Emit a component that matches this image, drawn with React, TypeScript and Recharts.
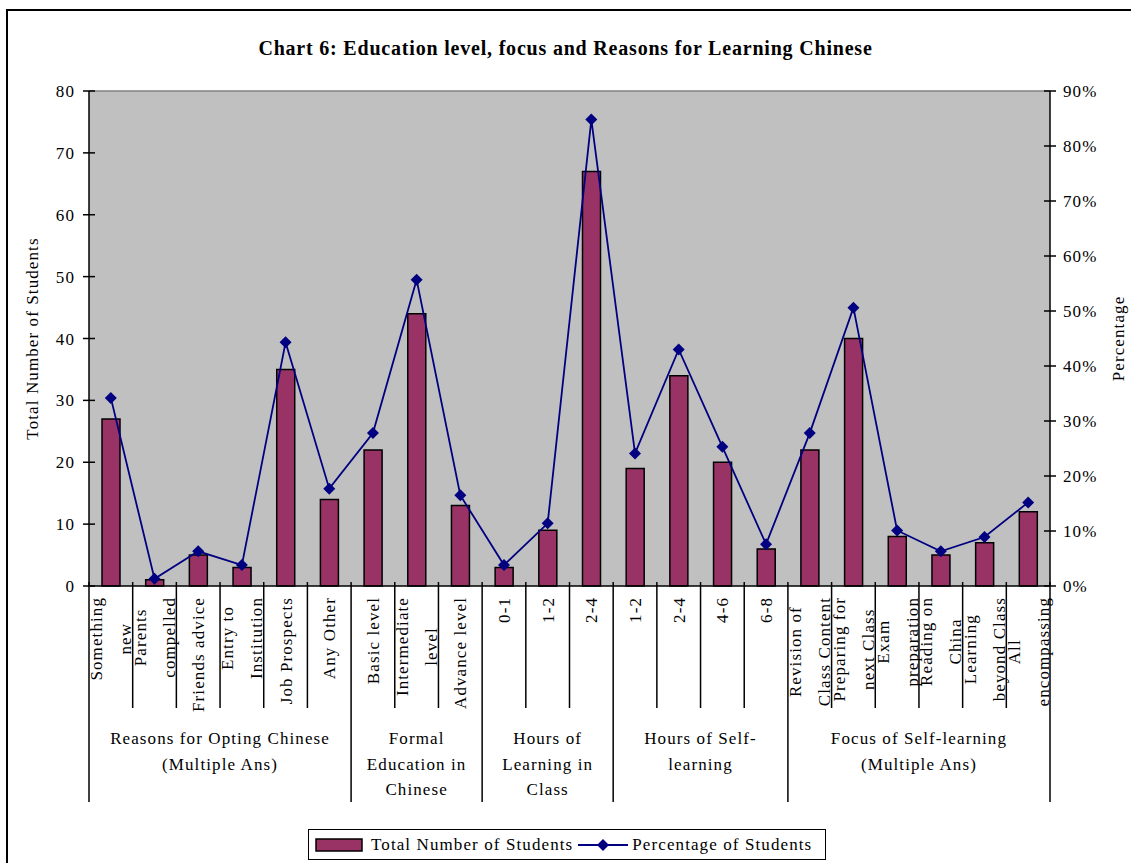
import React from 'react';
import { ComposedChart, Bar, Line, XAxis, YAxis, CartesianGrid, ReferenceLine } from 'recharts';

// category labels, one array of wrapped lines per bar
const categoryLabels: string[][] = [
  ['Something', 'new'],
  ['Parents', 'compelled'],
  ['Friends advice'],
  ['Entry to', 'Institution'],
  ['Job Prospects'],
  ['Any Other'],
  ['Basic level'],
  ['Intermediate', 'level'],
  ['Advance level'],
  ['0-1'],
  ['1-2'],
  ['2-4'],
  ['1-2'],
  ['2-4'],
  ['4-6'],
  ['6-8'],
  ['Revision of', 'Class Content'],
  ['Preparing for', 'next Class'],
  ['Exam', 'preparation'],
  ['Reading on', 'China'],
  ['Learning', 'beyond Class'],
  ['All', 'encompassing'],
];

const groupLabels: string[][] = [
  ['Reasons for Opting Chinese', '(Multiple Ans)'],
  ['Formal', 'Education in', 'Chinese'],
  ['Hours of', 'Learning in', 'Class'],
  ['Hours of Self-', 'learning'],
  ['Focus of Self-learning', '(Multiple Ans)'],
];
const groupSizes = [6, 3, 3, 4, 6];

const studentCounts = [27, 1, 5, 3, 35, 14, 22, 44, 13, 3, 9, 67, 19, 34, 20, 6, 22, 40, 8, 5, 7, 12];
const studentPercent = [34.2, 1.3, 6.3, 3.8, 44.3, 17.7, 27.8, 55.7, 16.5, 3.8, 11.4, 84.8, 24.1, 43.0, 25.3, 7.6, 27.8, 50.6, 10.1, 6.3, 8.9, 15.2];

const leftTicks = [0, 10, 20, 30, 40, 50, 60, 70, 80];
const rightTicks = [0, 10, 20, 30, 40, 50, 60, 70, 80, 90];

const data = categoryLabels.map((lines, i) => ({
  id: `c${i}`,
  total: studentCounts[i],
  pct: studentPercent[i],
}));

// which group each category belongs to, and where groups start
const groupStart: number[] = [];
const groupOf: number[] = [];
groupSizes.forEach((size, g) => {
  groupStart.push(groupOf.length);
  for (let k = 0; k < size; k++) groupOf.push(g);
});

const W = 1131;
const H = 863;
const PLOT_LEFT = 89;
const PLOT_RIGHT = 1050;
const PLOT_TOP = 91;
const PLOT_BOTTOM = 586;
const BAND = (PLOT_RIGHT - PLOT_LEFT) / data.length;

const FONT = '"Liberation Serif", "Times New Roman", serif';
const FS = 17;
const LS = 1.1;
const BAR = '#993366';
const NAVY = '#000080';

let ctx: CanvasRenderingContext2D | null = null;
function textWidth(s: string) {
  if (!ctx) ctx = document.createElement('canvas').getContext('2d');
  if (!ctx) return s.length * 8;
  ctx.font = `${FS}px ${FONT}`;
  return ctx.measureText(s).width + s.length * LS;
}

const txt = { fontFamily: FONT, fontSize: FS, letterSpacing: LS, fill: '#000' };

const LeftTick = (props: any) => {
  const { x, y, payload } = props;
  return (
    <g>
      <line x1={x + 8} x2={x + 20} y1={y} y2={y} stroke="#000" strokeWidth={1.5} />
      <text x={x} y={y} dy={6} textAnchor="end" style={txt}>{payload.value}</text>
    </g>
  );
};

const RightTick = (props: any) => {
  const { x, y, payload } = props;
  return (
    <g>
      <line x1={x - 19} x2={x - 7} y1={y} y2={y} stroke="#000" strokeWidth={1.5} />
      <text x={x} y={y} dy={6} textAnchor="start" style={txt}>{payload.value}%</text>
    </g>
  );
};

const CategoryTick = (props: any) => {
  const { x, y, payload } = props;
  const i = payload.index;
  const lines = categoryLabels[i];
  const left = x - BAND / 2;
  const g = groupOf[i];
  const isStart = groupStart[g] === i;
  const isLast = i === data.length - 1;
  const maxW = Math.max(...lines.map(textWidth));
  const yc = y + 11 + maxW / 2;
  const n = lines.length;
  return (
    <g>
      <line x1={left} x2={left} y1={y - 4} y2={isStart ? y + 216 : y + 122} stroke="#000" strokeWidth={1.5} />
      {isLast && <line x1={x + BAND / 2} x2={x + BAND / 2} y1={y - 4} y2={y + 216} stroke="#000" strokeWidth={1.5} />}
      <text transform={`translate(${x},${yc}) rotate(-90)`} textAnchor="middle" style={txt}>
        {lines.map((l, k) => (
          <tspan key={k} x={0} y={6 + (k - (n - 1) / 2) * 29}>{l}</tspan>
        ))}
      </text>
      {isStart && (
        <text textAnchor="middle" style={txt}>
          {groupLabels[g].map((l, k) => (
            <tspan key={k} x={left + (groupSizes[g] * BAND) / 2} y={y + 158 + k * 25.5}>{l}</tspan>
          ))}
        </text>
      )}
    </g>
  );
};

const Diamond = (props: any) => {
  const { cx, cy } = props;
  if (cx == null || cy == null) return null;
  const r = 6;
  return <polygon points={`${cx},${cy - r} ${cx + r},${cy} ${cx},${cy + r} ${cx - r},${cy}`} fill={NAVY} />;
};

const LeftTitle = (props: any) => {
  const { viewBox } = props;
  const cx = viewBox.x + 38;
  const cy = viewBox.y + viewBox.height / 2;
  return (
    <text transform={`translate(${cx},${cy}) rotate(-90)`} textAnchor="middle" style={txt}>
      Total Number of Students
    </text>
  );
};

const RightTitle = (props: any) => {
  const { viewBox } = props;
  const cx = viewBox.x + 74;
  const cy = viewBox.y + viewBox.height / 2;
  return (
    <text transform={`translate(${cx},${cy}) rotate(-90)`} textAnchor="middle" style={txt}>
      Percentage
    </text>
  );
};

const App = () => {
  return (
    <div style={{ position: 'relative', width: W, height: H, overflow: 'hidden', background: '#fff', fontFamily: FONT }}>
      <style>{'body{margin:0}'}</style>
      <div style={{ position: 'absolute', left: 6, top: 9, width: 1160, height: 900, border: '2px solid #000' }} />
      <div
        style={{
          position: 'absolute', left: 0, width: W, top: 37, textAlign: 'center',
          fontWeight: 'bold', fontSize: 20, letterSpacing: 0.8, fontFamily: FONT,
        }}
      >
        Chart 6: Education level, focus and Reasons for Learning Chinese
      </div>
      <div style={{ position: 'absolute', left: 0, top: 0 }}>
        <ComposedChart
          width={W}
          height={H}
          data={data}
          margin={{ top: PLOT_TOP, right: 0, bottom: H - PLOT_BOTTOM - 230, left: 0 }}
        >
          <CartesianGrid yAxisId="left" fill="#C0C0C0" horizontal={false} vertical={false} stroke="none" />
          <XAxis
            dataKey="id"
            interval={0}
            height={230}
            tickSize={0}
            tickMargin={0}
            tickLine={false}
            axisLine={{ stroke: '#000', strokeWidth: 1.5 }}
            tick={<CategoryTick />}
          />
          <YAxis
            yAxisId="left"
            width={PLOT_LEFT}
            domain={[0, 80]}
            ticks={leftTicks}
            interval={0}
            tickSize={6}
            tickMargin={8}
            tickLine={false}
            axisLine={{ stroke: '#000', strokeWidth: 1.5 }}
            tick={<LeftTick />}
            label={{ content: <LeftTitle /> }}
          />
          <YAxis
            yAxisId="right"
            orientation="right"
            width={W - PLOT_RIGHT}
            domain={[0, 90]}
            ticks={rightTicks}
            interval={0}
            tickSize={6}
            tickMargin={7}
            tickLine={false}
            axisLine={{ stroke: '#000', strokeWidth: 1.5 }}
            tick={<RightTick />}
            label={{ content: <RightTitle /> }}
          />
          <ReferenceLine yAxisId="left" y={80} stroke="#808080" strokeWidth={1.5} />
          <Bar
            yAxisId="left"
            dataKey="total"
            name="Total Number of Students"
            fill={BAR}
            stroke="#000"
            strokeWidth={1.5}
            barSize={18}
            isAnimationActive={false}
          />
          <Line
            yAxisId="right"
            dataKey="pct"
            name="Percentage of Students"
            type="linear"
            stroke={NAVY}
            strokeWidth={1.8}
            dot={(p: any) => <Diamond key={p.index} {...p} />}
            activeDot={false}
            isAnimationActive={false}
          />
        </ComposedChart>
      </div>
      <div
        style={{
          position: 'absolute', left: 308, top: 829, width: 518, height: 31,
          border: '1.5px solid #000', background: '#fff', display: 'flex', alignItems: 'center',
          fontFamily: FONT, fontSize: FS, letterSpacing: LS, boxSizing: 'border-box',
        }}
      >
        <svg width={50} height={16} style={{ marginLeft: 6, marginRight: 6 }}>
          <rect x={1} y={2} width={46} height={12} fill={BAR} stroke="#000" strokeWidth={1.5} />
        </svg>
        <span>Total Number of Students</span>
        <svg width={50} height={16} style={{ marginLeft: 5, marginRight: 4 }}>
          <line x1={0} x2={50} y1={8} y2={8} stroke={NAVY} strokeWidth={1.8} />
          <polygon points="25,2 31,8 25,14 19,8" fill={NAVY} />
        </svg>
        <span>Percentage of Students</span>
      </div>
    </div>
  );
};

export default App;
